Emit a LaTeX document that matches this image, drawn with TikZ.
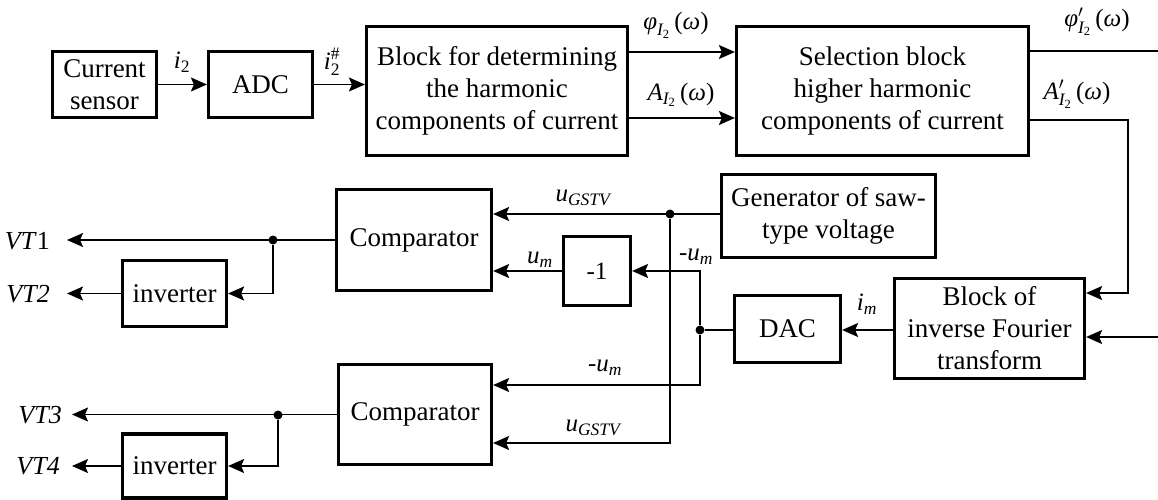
\documentclass[tikz,border=0pt]{standalone}
\usepackage{amsmath}
\usepackage{fontspec}
\setmainfont{Liberation Serif}
\usetikzlibrary{arrows.meta,calc}
\newcommand{\vi}[1]{\text{\itshape #1}}
\tikzset{
 blk/.style={draw, line width=3.2pt, inner sep=0pt, align=center, font=\fontsize{27}{32}\selectfont},
 conn/.style={line width=1.7pt},
 arr/.style={conn, -{Stealth[length=16pt,width=14pt,inset=3pt]}},
 lbl/.style={font=\fontsize{25}{30}\selectfont, inner sep=0pt},
 vt/.style={font=\fontsize{26}{31}\selectfont, anchor=east, inner sep=0pt},
 jdot/.style={circle, fill, inner sep=0pt, minimum size=9pt},
}
\begin{document}
\begin{tikzpicture}[x=1pt,y=-1pt]
\useasboundingbox (0,0) rectangle (1158,500);
% blocks
\node[blk, minimum width=104pt, minimum height=66pt] (cs) at (104.5,84.5) {Current\\sensor};
\node[blk, minimum width=104pt, minimum height=66pt] (adc) at (260.5,84.5) {ADC};
\node[blk, minimum width=261pt, minimum height=129pt] (bfd) at (497,91) {Block for determining\\the harmonic\\components of current};
\node[blk, minimum width=292pt, minimum height=129pt] (sel) at (882.5,91) {Selection block\\higher harmonic\\components of current};
\node[blk, minimum width=214pt, minimum height=83pt] (gen) at (828.5,216) {Generator of saw-\\type voltage};
\node[blk, minimum width=155pt, minimum height=101pt] (cmp1) at (414,240) {Comparator};
\node[blk, minimum width=67pt, minimum height=69pt, font=\fontsize{25}{30}\selectfont] (neg) at (597,271) {-1};
\node[blk, minimum width=106pt, minimum height=67pt] (dac) at (787.5,329) {DAC};
\node[blk, minimum width=190pt, minimum height=100pt] (ift) at (989.5,328.5) {Block of\\inverse Fourier\\transform};
\node[blk, minimum width=104pt, minimum height=66pt] (inv1) at (174.5,293.5) {inverter};
\node[blk, minimum width=153pt, minimum height=100pt] (cmp2) at (415,414.5) {Comparator};
\node[blk, minimum width=104pt, minimum height=64pt] (inv2) at (174.5,466) {inverter};
% junctions
\node[jdot] (j1) at (700,330) {};
\node[jdot] (j2) at (670,214) {};
\node[jdot] (j3) at (273,240) {};
\node[jdot] (j4) at (278,415) {};
% free ends
\coordinate (phiout) at (1158,51);
\coordinate (ain) at (1158,337);
\coordinate (t1) at (67,240);
\coordinate (t2) at (67,293.5);
\coordinate (t3) at (72,414.5);
\coordinate (t4) at (72,466);
% outputs labels
\node[vt] (vt1) at (50,241) {\textit{VT}1};
\node[vt] (vt2) at (50,294) {\textit{VT2}};
\node[vt] (vt3) at (62,415) {\textit{VT3}};
\node[vt] (vt4) at (60,466) {\textit{VT4}};
% connectors
\draw[arr] (cs.east) -- (adc.west);
\draw[arr] (adc.east) -- (adc.east -| bfd.west);
\draw[arr] (bfd.east |- 0,52) -- (sel.west |- 0,52);
\draw[arr] (bfd.east |- 0,118) -- (sel.west |- 0,118);
\draw[conn] (sel.east |- phiout) -- (phiout);
\draw[arr] (sel.east |- 0,120) -| (1128,293) -- (ift.east |- 0,293);
\draw[arr] (ain) -- (ift.east |- ain);
\draw[arr] (ift.west |- j1) -- (dac.east |- j1);
\draw[conn] (dac.west |- j1) -- (j1);
\draw[arr] (j1) |- (neg.east);
\draw[arr] (j1) |- (cmp2.east |- 0,385);
\draw[arr] (neg.west) -- (neg.west -| cmp1.east);
\draw[arr] (gen.west |- j2) -- (cmp1.east |- j2);
\draw[arr] (j2) |- (cmp2.east |- 0,443);
\draw[arr] (cmp1.west) -- (t1);
\draw[arr] (j3) |- (inv1.east);
\draw[arr] (inv1.west) -- (t2);
\draw[arr] (cmp2.west) -- (t3);
\draw[arr] (j4) |- (inv2.east);
\draw[arr] (inv2.west) -- (t4);
% connector labels
\node[lbl] (li2) at (182,62) {$\vi{i}_{\text{2}}$};
\node[lbl] (li2h) at (332,62) {$\vi{i}_{\text{2}}^{\text{\#}}$};
\node[lbl] (lphi) at (676,25) {$\vi{φ}_{\vi{I}_{\text{2}}}\,\text{(}\vi{ω}\text{)}$};
\node[lbl] (lamp) at (681,95) {$\vi{A}_{\vi{I}_{\text{2}}}\,\text{(}\vi{ω}\text{)}$};
\node[lbl] (lphip) at (1097,22) {$\vi{φ}'_{\vi{I}_{\text{2}}}\,\text{(}\vi{ω}\text{)}$};
\node[lbl] (lampp) at (1077,94) {$\vi{A}'_{\vi{I}_{\text{2}}}\,\text{(}\vi{ω}\text{)}$};
\node[lbl] (lug1) at (583,198) {$\vi{u}_{\vi{GSTV}}$};
\node[lbl] (lum) at (540,260) {$\vi{u}_{\vi{m}}$};
\node[lbl] (lnum1) at (696,257) {$\text{-}\vi{u}_{\vi{m}}$};
\node[lbl] (lim) at (867,304) {$\vi{i}_{\vi{m}}$};
\node[lbl] (lnum2) at (605,368) {$\text{-}\vi{u}_{\vi{m}}$};
\node[lbl] (lug2) at (593,428) {$\vi{u}_{\vi{GSTV}}$};
\end{tikzpicture}
\end{document}
